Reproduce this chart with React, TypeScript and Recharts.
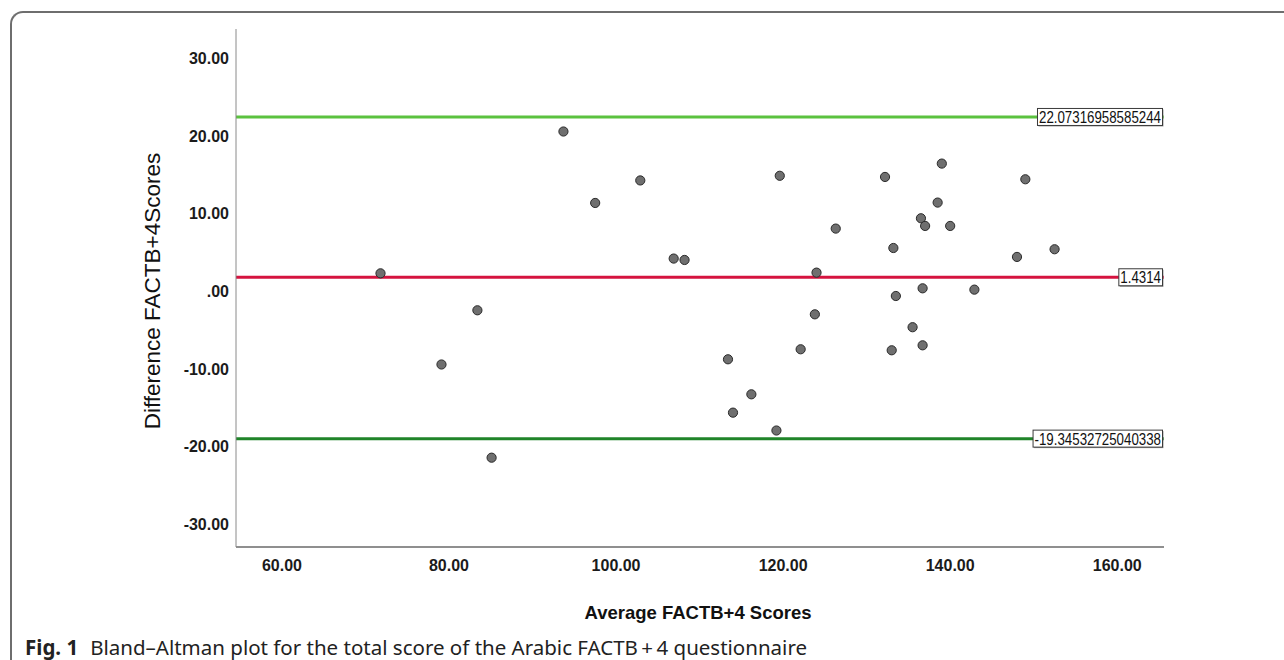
import React from "react";
import { ScatterChart, Scatter, XAxis, YAxis, ReferenceLine, Label } from "recharts";

// Bland–Altman: mean of the two FACTB+4 scores vs their difference
const avgScores = [
  71.8, 79.1, 83.4, 85.1, 93.7, 97.5, 102.9, 106.9, 108.2, 113.4, 114.0, 116.2,
  119.2, 119.6, 122.1, 123.8, 124.0, 126.3, 132.2, 133.0, 133.2, 133.5, 135.5,
  136.5, 136.7, 136.7, 137.0, 138.5, 139.0, 140.0, 142.9, 148.0, 149.0, 152.5,
];
const diffScores = [
  1.94, -9.8, -2.82, -21.8, 20.2, 11.0, 13.9, 3.84, 3.66, -9.13, -16.0, -13.64,
  -18.3, 14.5, -7.84, -3.34, 2.03, 7.7, 14.35, -7.97, 5.2, -0.98, -5.0,
  9.03, 0.01, -7.33, 8.04, 11.05, 16.07, 8.04, -0.16, 4.05, 14.05, 5.04,
];
const upperLimit = 22.07316958585244;
const meanDiff = 1.4314;
const lowerLimit = -19.34532725040338;

const xTicks = [60, 80, 100, 120, 140, 160];
const yTicks = [-30, -20, -10, 0, 10, 20, 30];

const points = avgScores.map((x, i) => ({ x, y: diffScores[i] }));

const SANS = "'Liberation Sans', Arial, Helvetica, sans-serif";

document.body.style.margin = "0";
document.body.style.overflow = "hidden";

// SPSS style: 0 -> ".00"
const fmt = (v: number) => {
  const s = v.toFixed(2);
  return Math.abs(v) < 1 ? s.replace(/^(-?)0/, "$1") : s;
};

function XTick({ x, y, payload }: any) {
  return (
    <text x={x} y={y + 18} textAnchor="middle" dominantBaseline="central"
      fontFamily={SANS} fontWeight="bold" fontSize={16} fill="#1b1b1b">
      {fmt(payload.value)}
    </text>
  );
}

function YTick({ x, y, payload }: any) {
  return (
    <text x={x - 7} y={y + 3} textAnchor="end" dominantBaseline="central"
      fontFamily={SANS} fontWeight="bold" fontSize={16} fill="#1b1b1b">
      {fmt(payload.value)}
    </text>
  );
}

function textW(s: string, fs: number) {
  let w = 0;
  for (const ch of s) w += ch === "." ? 0.278 : ch === "-" ? 0.333 : 0.556;
  return w * fs;
}

function LimitTag({ viewBox, text }: any) {
  if (!viewBox) return null;
  const w = textW(text, 13.3) + 3;
  const right = viewBox.x + viewBox.width - 1.5;
  const cy = viewBox.y;
  return (
    <g>
      <rect x={right - w + 1} y={cy - 7.5} width={w} height={17} fill="#9a9a9a" />
      <rect x={right - w} y={cy - 8.5} width={w} height={17} fill="#fff" stroke="#3a3a3a" strokeWidth={1} />
      <text x={right - w + 1.5} y={cy + 0.5} dominantBaseline="central" fontFamily={SANS}
        fontSize={16} fill="#111" textLength={w - 3} lengthAdjust="spacingAndGlyphs">
        {text}
      </text>
    </g>
  );
}

const Dot = (p: any) => (
  <circle cx={p.cx} cy={p.cy} r={4.6} fill="#6f6f6f" stroke="#2a2a2a" strokeWidth={1} />
);

export default function App() {
  return (
    <div style={{ position: "relative", width: 1284, height: 660, overflow: "hidden", background: "#fff" }}>
      <div
        style={{
          position: "absolute", left: 10, top: 11, width: 1274, height: 649,
          boxSizing: "border-box",
          borderTop: "2px solid #6e6e6e", borderLeft: "2px solid #6e6e6e",
          borderTopLeftRadius: 13,
        }}
      />
      <div style={{ position: "absolute", left: 0, top: 0 }}>
        <ScatterChart width={1284} height={660} margin={{ top: 29, right: 120, bottom: 53, left: 156 }}>
          <XAxis type="number" dataKey="x" domain={[54.5, 165.6]} ticks={xTicks} height={60}
            allowDataOverflow tickSize={0} tickMargin={0} tickLine={false}
            axisLine={{ stroke: "#6a6a6a", strokeWidth: 1.5 }} tick={<XTick />}>
            <Label content={(p: any) => (
              <text x={p.viewBox.x + p.viewBox.width / 2 - 2} y={p.viewBox.y + 65}
                textAnchor="middle" dominantBaseline="central" fontFamily={SANS}
                fontWeight="bold" fontSize={18.5} fill="#111">
                Average FACTB+4 Scores
              </text>
            )} />
          </XAxis>
          <YAxis type="number" dataKey="y" domain={[-33.3, 33.4]} ticks={yTicks} width={80}
            allowDataOverflow tickSize={0} tickMargin={0} tickLine={false}
            axisLine={{ stroke: "#8a8a8a", strokeWidth: 1 }} tick={<YTick />}>
            <Label content={(p: any) => {
              const cx = p.viewBox.x - 4;
              const cy = p.viewBox.y + p.viewBox.height / 2 + 3;
              return (
                <text x={cx} y={cy} transform={`rotate(-90 ${cx} ${cy})`} textAnchor="middle"
                  dominantBaseline="central" fontFamily={SANS} fontSize={22.5} fill="#111">
                  Difference FACTB+4Scores
                </text>
              );
            }} />
          </YAxis>
          <Scatter data={points} shape={Dot} isAnimationActive={false} />
          <ReferenceLine y={upperLimit} stroke="#5bc23f" strokeWidth={3}
            label={<LimitTag text={String(upperLimit)} />} />
          <ReferenceLine y={meanDiff} stroke="#d5133f" strokeWidth={3}
            label={<LimitTag text={String(meanDiff)} />} />
          <ReferenceLine y={lowerLimit} stroke="#1f8429" strokeWidth={3}
            label={<LimitTag text={String(lowerLimit)} />} />
        </ScatterChart>
      </div>
      <div
        style={{
          position: "absolute", left: 25, top: 634, whiteSpace: "nowrap", lineHeight: "26px",
          fontFamily: "'Noto Sans', 'Open Sans', sans-serif", fontSize: 20.5, color: "#222",
        }}
      >
        <b>Fig. 1</b>
        <span style={{ marginLeft: 12 }}>Bland–Altman plot for the total score of the Arabic FACTB{"\u2009+\u2009"}4 questionnaire</span>
      </div>
    </div>
  );
}
